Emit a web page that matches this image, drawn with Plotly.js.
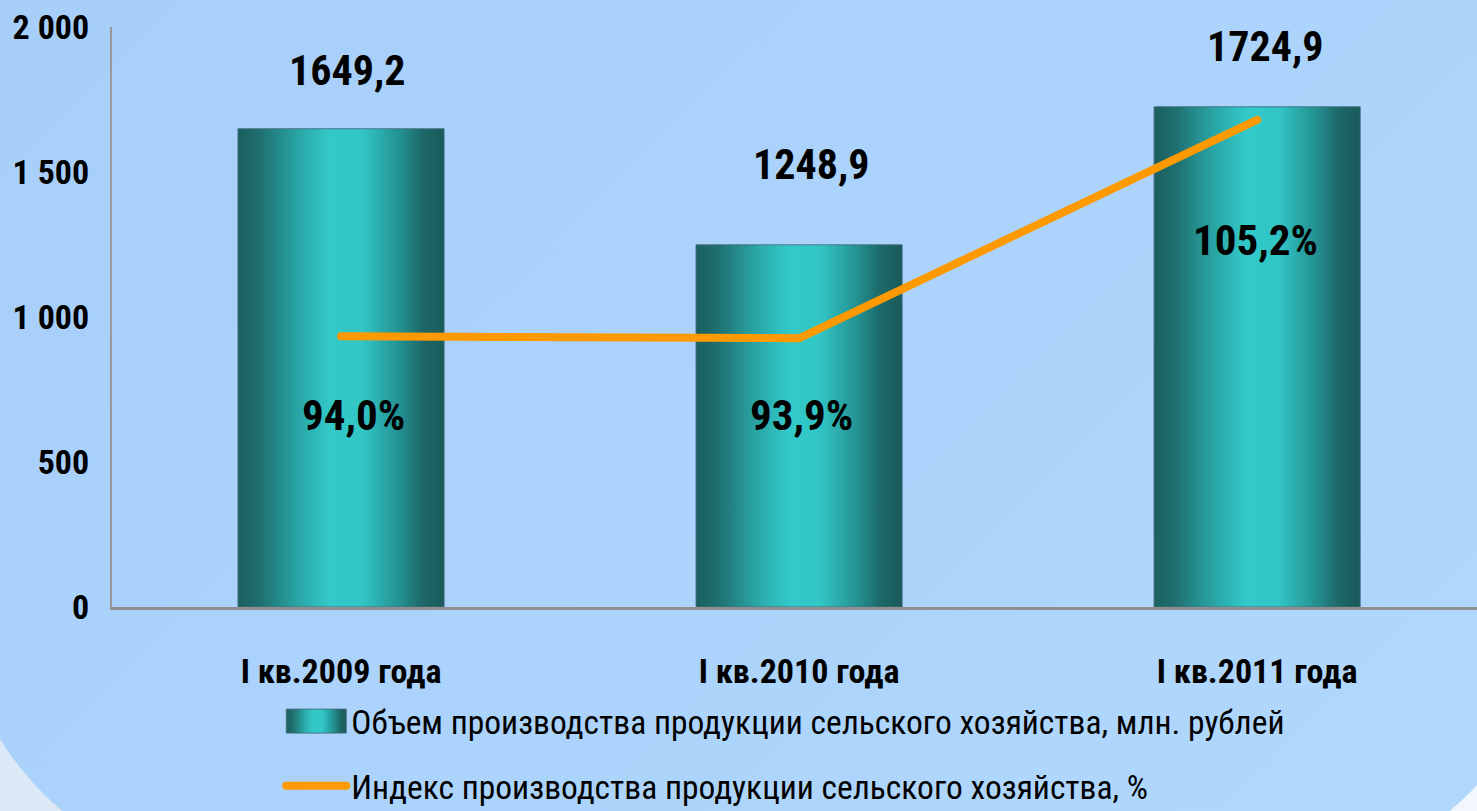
<!DOCTYPE html>
<html>
<head>
<meta charset="utf-8">
<script src="https://cdn.plot.ly/plotly-3.0.1.min.js"></script>
<style>
  html, body { margin: 0; padding: 0; width: 1477px; height: 811px; overflow: hidden; }
  body { background: linear-gradient(90deg, #dde8f6 0%, #e6eef9 60%, #f2f6fd 100%); position: relative; }
  #bgshape {
    position: absolute; left: -45px; right: -80px; top: -100px; bottom: -70px;
    background: linear-gradient(135deg, #a6cefa 0%, #abd3fb 50%, #b2d8fc 100%);
    border-bottom-left-radius: 300px; border-bottom-right-radius: 300px;
  }
  #chart { position: absolute; left: 0; top: 0; width: 1477px; height: 811px; }
  svg text { font-stretch: 75% !important; }
  .scatterlayer .js-line, .legend .legendlines path { stroke-linecap: round; }
</style>
</head>
<body>
<div id="bgshape"></div>
<div id="chart"></div>
<script>
// ---- data ----
const categories = ['I кв.2009 года', 'I кв.2010 года', 'I кв.2011 года'];
const volume = [1649.2, 1248.9, 1724.9];      // млн. рублей
const indexPct = [94.0, 93.9, 105.2];         // %
const yTickVals = [0, 500, 1000, 1500, 2000];
const seriesNames = [
  'Объем производства продукции сельского хозяйства, млн. рублей',
  'Индекс производства продукции сельского хозяйства, %'
];

// ---- label placement (pixels) ----
const volLabelShift = [{x: 6, y: 58}, {x: 12, y: 80}, {x: 8, y: 60}];
const pctLabelShift = [{x: 12, y: -79}, {x: 2, y: -77}, {x: -2, y: -120}];

const fmt = v => v.toFixed(1).replace('.', ',');
const FONT = 'Roboto, "Open Sans", sans-serif';

const traces = [
  {
    type: 'bar', x: categories, y: volume, name: seriesNames[0],
    width: 0.45,
    marker: { color: '#2fb8b8', line: { color: 'rgba(70,110,130,0.9)', width: 1 } },
    hoverinfo: 'none', legendgroup: 'a'
  },
  {
    type: 'scatter', mode: 'lines', x: categories, y: indexPct, yaxis: 'y2', name: seriesNames[1],
    line: { color: '#ff9900', width: 8 },
    hoverinfo: 'none', legendgroup: 'b'
  }
];

const annotations = [];
categories.forEach((c, i) => {
  annotations.push({
    x: c, y: volume[i], xref: 'x', yref: 'y', text: fmt(volume[i]), showarrow: false,
    xshift: volLabelShift[i].x, yshift: volLabelShift[i].y,
    font: { family: FONT, size: 42, color: '#000', weight: 'bold' }
  });
  annotations.push({
    x: c, y: indexPct[i], xref: 'x', yref: 'y2', text: fmt(indexPct[i]) + '%', showarrow: false,
    xshift: pctLabelShift[i].x, yshift: pctLabelShift[i].y,
    font: { family: FONT, size: 43, color: '#000', weight: 'bold' }
  });
});

const layout = {
  width: 1477, height: 811,
  margin: { l: 112, r: 0, t: 27, b: 204, autoexpand: false },
  paper_bgcolor: 'rgba(0,0,0,0)', plot_bgcolor: 'rgba(0,0,0,0)',
  separators: ', ',
  showlegend: true,
  legend: {
    x: 0.124, xanchor: 'left', y: -0.148, yanchor: 'top',
    bgcolor: 'rgba(0,0,0,0)', traceorder: 'grouped', tracegroupgap: 18,
    font: { family: FONT, size: 33.5, color: '#000' }, itemwidth: 60
  },
  xaxis: {
    type: 'category', range: [-0.5, 2.48], fixedrange: true,
    showline: true, linecolor: '#8f8f8f', linewidth: 3, ticks: '',
    showgrid: false, zeroline: false, ticklabelstandoff: 32,
    tickfont: { family: FONT, size: 34, color: '#000', weight: 'bold' }
  },
  yaxis: {
    range: [0, 2000], tickvals: yTickVals, separatethousands: true, tickformat: ',d',
    showline: true, linecolor: '#999999', linewidth: 2, ticks: '', showgrid: false, zeroline: false,
    ticklabelstandoff: 14, fixedrange: true,
    tickfont: { family: FONT, size: 34, color: '#000', weight: 'bold' }
  },
  yaxis2: {
    overlaying: 'y', side: 'right', range: [80, 110], visible: false, fixedrange: true
  },
  annotations: annotations
};

Plotly.newPlot('chart', traces, layout, { staticPlot: true, displayModeBar: false }).then(gd => {
  const svg = gd.querySelector('svg.main-svg');
  const NS = 'http://www.w3.org/2000/svg';
  let defs = svg.querySelector('defs');
  if (!defs) { defs = document.createElementNS(NS, 'defs'); svg.insertBefore(defs, svg.firstChild); }
  const grad = document.createElementNS(NS, 'linearGradient');
  grad.setAttribute('id', 'barGrad');
  grad.setAttribute('x1', '0'); grad.setAttribute('y1', '0');
  grad.setAttribute('x2', '1'); grad.setAttribute('y2', '0');
  [[0, '#1b5f5f'], [0.1, '#1f6e6e'], [0.3, '#2aa8a8'], [0.45, '#33c9c9'], [0.6, '#32c6c6'], [0.78, '#249292'], [0.9, '#1d6767'], [1, '#1a5a5a']]
    .forEach(([o, c]) => {
      const s = document.createElementNS(NS, 'stop');
      s.setAttribute('offset', o); s.setAttribute('stop-color', c);
      grad.appendChild(s);
    });
  defs.appendChild(grad);
  gd.querySelectorAll('.barlayer .point path').forEach(p => { p.style.fill = 'url(#barGrad)'; });
  gd.querySelectorAll('.legend .legendpoints path').forEach(p => {
    p.setAttribute('d', 'M-30,-12H30V12H-30Z');
    p.style.fill = 'url(#barGrad)';
  });
});
</script>
</body>
</html>
